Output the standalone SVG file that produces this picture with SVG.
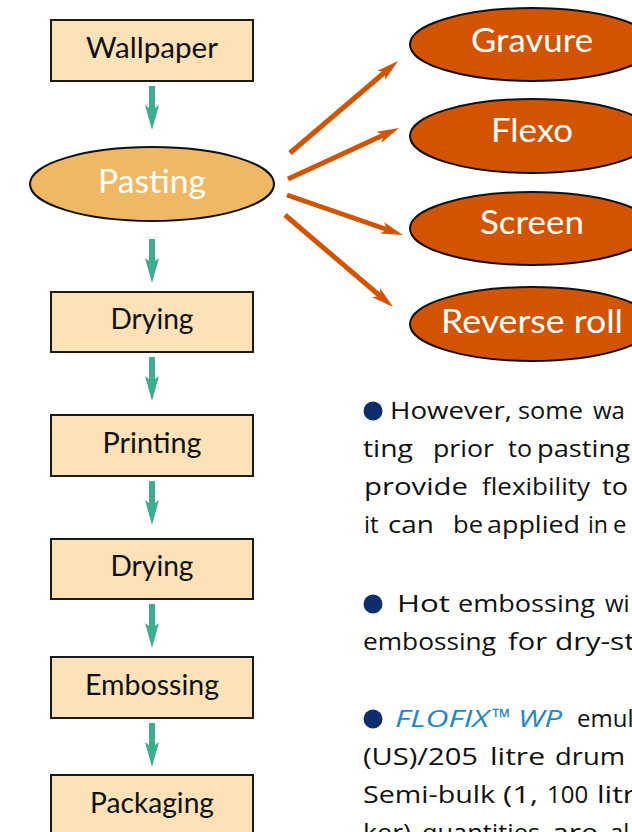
<svg xmlns="http://www.w3.org/2000/svg" width="632" height="832" viewBox="0 0 632 832">
<style>
  .box { fill: #FDE2B8; stroke: #1a1a1a; stroke-width: 2; }
  .paste { fill: #EFB963; stroke: #111; stroke-width: 2; }
  .meth { fill: #D35400; stroke: #111; stroke-width: 2; }
  .lbl { font-family: Lato, "Open Sans", sans-serif; font-size: 28px; fill: #111; text-anchor: middle; }
  .wl { font-family: Lato, "Open Sans", sans-serif; font-size: 33px; fill: #fff; text-anchor: middle; }
  .body text { font-family: "Open Sans", Lato, sans-serif; font-size: 24px; fill: #111; font-variant-ligatures: none; }
  .body text.brand { fill: #1E88C8; font-style: italic; }
  .bullet { fill: #0D2D6B; }
  .teal { fill: #3AAE8F; }
  .orange { stroke: #D35400; stroke-width: 5; fill: none; marker-end: url(#oh); }
</style>
<defs>
  <marker id="oh" markerUnits="userSpaceOnUse" viewBox="0 -7 23 14" refX="5" refY="0" markerWidth="23" markerHeight="14" orient="auto">
    <path d="M0,-6 L22,0 L0,6 L5,0 Z" fill="#D35400"/>
  </marker>
  <path id="ta" d="M-3,0 L3,0 L3,22 L7,19 L0,44 L-7,19 L-3,22 Z"/>
</defs>

<g id="connectors">
  <use href="#ta" class="teal" x="152" y="86"/>
  <use href="#ta" class="teal" x="152" y="239"/>
  <use href="#ta" class="teal" x="152" y="357"/>
  <use href="#ta" class="teal" x="152" y="481"/>
  <use href="#ta" class="teal" x="152" y="604"/>
  <use href="#ta" class="teal" x="152" y="723"/>
  <line class="orange" x1="290" y1="153" x2="385.1" y2="72"/>
  <line class="orange" x1="288" y1="179" x2="383.6" y2="135.1"/>
  <line class="orange" x1="287" y1="195" x2="386.9" y2="229.5"/>
  <line class="orange" x1="285" y1="215" x2="380.1" y2="296"/>
</g>

<g id="wallpaper">
  <rect class="box" x="51" y="20" width="202" height="61"/>
  <text class="lbl" x="152" y="58" textLength="132" lengthAdjust="spacingAndGlyphs">Wallpaper</text>
</g>
<g id="pasting">
  <ellipse class="paste" cx="152" cy="184" rx="122" ry="37"/>
  <text class="wl" x="152" y="193" textLength="108" lengthAdjust="spacingAndGlyphs">Pasting</text>
</g>
<g id="drying1">
  <rect class="box" x="51" y="292" width="202" height="60"/>
  <text class="lbl" x="152" y="329" textLength="83" lengthAdjust="spacingAndGlyphs">Drying</text>
</g>
<g id="printing">
  <rect class="box" x="51" y="415" width="202" height="61"/>
  <text class="lbl" x="152" y="453" textLength="99" lengthAdjust="spacingAndGlyphs">Printing</text>
</g>
<g id="drying2">
  <rect class="box" x="51" y="539" width="202" height="60"/>
  <text class="lbl" x="152" y="576" textLength="83" lengthAdjust="spacingAndGlyphs">Drying</text>
</g>
<g id="embossing">
  <rect class="box" x="51" y="657" width="202" height="61"/>
  <text class="lbl" x="152" y="695" textLength="134" lengthAdjust="spacingAndGlyphs">Embossing</text>
</g>
<g id="packaging">
  <rect class="box" x="51" y="775" width="202" height="62"/>
  <text class="lbl" x="152" y="813" textLength="124" lengthAdjust="spacingAndGlyphs">Packaging</text>
</g>

<g id="gravure">
  <ellipse class="meth" cx="532" cy="44.5" rx="122" ry="36.5"/>
  <text class="wl" x="532" y="52" textLength="122" lengthAdjust="spacingAndGlyphs">Gravure</text>
</g>
<g id="flexo">
  <ellipse class="meth" cx="532" cy="136" rx="122" ry="37"/>
  <text class="wl" x="532" y="142" textLength="82" lengthAdjust="spacingAndGlyphs">Flexo</text>
</g>
<g id="screen">
  <ellipse class="meth" cx="532" cy="228.5" rx="122" ry="36.5"/>
  <text class="wl" x="532" y="234" textLength="104" lengthAdjust="spacingAndGlyphs">Screen</text>
</g>
<g id="reverse-roll">
  <ellipse class="meth" cx="532" cy="324" rx="122" ry="37"/>
  <text class="wl" x="532" y="333" textLength="182" lengthAdjust="spacingAndGlyphs">Reverse roll</text>
</g>

<g id="notes" class="body">
  <circle class="bullet" cx="373" cy="411" r="9.5"/>
  <text x="390" y="419" textLength="122" lengthAdjust="spacingAndGlyphs">However,</text>
  <text x="518" y="419" textLength="65" lengthAdjust="spacingAndGlyphs">some</text>
  <text x="593" y="419">wa</text>

  <text x="363" y="457" textLength="50" lengthAdjust="spacingAndGlyphs">ting</text>
  <text x="433" y="457" textLength="61" lengthAdjust="spacingAndGlyphs">prior</text>
  <text x="508" y="457" textLength="24" lengthAdjust="spacingAndGlyphs">to</text>
  <text x="537" y="457" textLength="93" lengthAdjust="spacingAndGlyphs">pasting</text>

  <text x="364" y="495" textLength="104" lengthAdjust="spacingAndGlyphs">provide</text>
  <text x="482" y="495" textLength="108" lengthAdjust="spacingAndGlyphs">flexibility</text>
  <text x="602" y="495" textLength="26" lengthAdjust="spacingAndGlyphs">to</text>

  <text x="364" y="533">it</text>
  <text x="388" y="533" textLength="46" lengthAdjust="spacingAndGlyphs">can</text>
  <text x="453" y="533" textLength="30" lengthAdjust="spacingAndGlyphs">be</text>
  <text x="487" y="533" textLength="93" lengthAdjust="spacingAndGlyphs">applied</text>
  <text x="588" y="533" textLength="20" lengthAdjust="spacingAndGlyphs">in</text>
  <text x="613" y="533">e</text>

  <circle class="bullet" cx="373" cy="604" r="9.5"/>
  <text x="397" y="612" textLength="53" lengthAdjust="spacingAndGlyphs">Hot</text>
  <text x="458" y="612" textLength="137" lengthAdjust="spacingAndGlyphs">embossing</text>
  <text x="605" y="612">wi</text>

  <text x="363" y="650" textLength="133" lengthAdjust="spacingAndGlyphs">embossing</text>
  <text x="508" y="650" textLength="39" lengthAdjust="spacingAndGlyphs">for</text>
  <text x="555" y="650" textLength="80" lengthAdjust="spacingAndGlyphs">dry-st</text>

  <circle class="bullet" cx="373" cy="719" r="9.5"/>
  <text class="brand" x="395" y="727" textLength="94" lengthAdjust="spacingAndGlyphs">FLOFIX</text>
  <text class="brand" x="492" y="726" font-size="20" textLength="18" lengthAdjust="spacingAndGlyphs">™</text>
  <text class="brand" x="518" y="727" textLength="44" lengthAdjust="spacingAndGlyphs">WP</text>
  <text x="577" y="727">emul</text>

  <text x="363" y="765" textLength="115" lengthAdjust="spacingAndGlyphs">(US)/205</text>
  <text x="490" y="765" textLength="55" lengthAdjust="spacingAndGlyphs">litre</text>
  <text x="555" y="765" textLength="70" lengthAdjust="spacingAndGlyphs">drum</text>

  <text x="363" y="803" textLength="132" lengthAdjust="spacingAndGlyphs">Semi-bulk</text>
  <text x="503" y="803" textLength="35" lengthAdjust="spacingAndGlyphs">(1,</text>
  <text x="547" y="803">100</text>
  <text x="597" y="803" textLength="55" lengthAdjust="spacingAndGlyphs">litre</text>

  <text x="363" y="841" textLength="48" lengthAdjust="spacingAndGlyphs">ker)</text>
  <text x="422" y="841" textLength="118" lengthAdjust="spacingAndGlyphs">quantities</text>
  <text x="552" y="841" textLength="46" lengthAdjust="spacingAndGlyphs">are</text>
  <text x="610" y="841">al</text>
</g>
</svg>
